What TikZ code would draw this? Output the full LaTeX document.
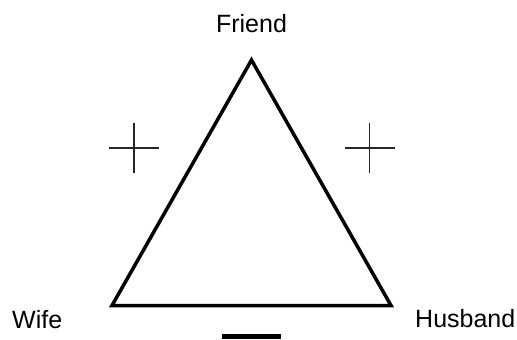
\documentclass[tikz,border=0pt]{standalone}
\usepackage{fontspec}
\setmainfont{Liberation Sans}
\usetikzlibrary{positioning}

\begin{document}
\begin{tikzpicture}[
    x=1pt, y=-1pt,
    lbl/.style={inner sep=0pt, font=\fontsize{25}{30}\selectfont},
    side/.style={line width=3.5pt, line join=miter},
    plus/.style={line width=1.3pt, draw=black!85},
    minus/.style={line width=4.5pt}
]
    \useasboundingbox (0,0) rectangle (517,340);

    % corners of the triangle
    \coordinate (friend) at (251.5,60);
    \coordinate (wife) at (112,305.5);
    \coordinate (husband) at (391,305.5);

    \node[lbl, anchor=base] (friendlbl) at (251.5,32) {Friend};
    \node[lbl, anchor=base west] (wifelbl) at (12,328) {Wife};
    \node[lbl, anchor=base west] (husbandlbl) at (415,327) {Husband};

    \draw[side] (friend) -- (husband) -- (wife) -- cycle;

    % signs
    \coordinate (plusL) at (134,148);
    \coordinate (plusR) at (369.5,148);
    \coordinate (minusB) at (251.5,336.5);

    \draw[plus] ([xshift=-25pt]plusL) -- ([xshift=25pt]plusL);
    \draw[plus] ([yshift=25pt]plusL) -- ([yshift=-25pt]plusL);
    \draw[plus] ([xshift=-25pt]plusR) -- ([xshift=25pt]plusR);
    \draw[plus] ([yshift=25pt]plusR) -- ([yshift=-25pt]plusR);
    \draw[minus] ([xshift=-29.5pt]minusB) -- ([xshift=29.5pt]minusB);
\end{tikzpicture}
\end{document}
